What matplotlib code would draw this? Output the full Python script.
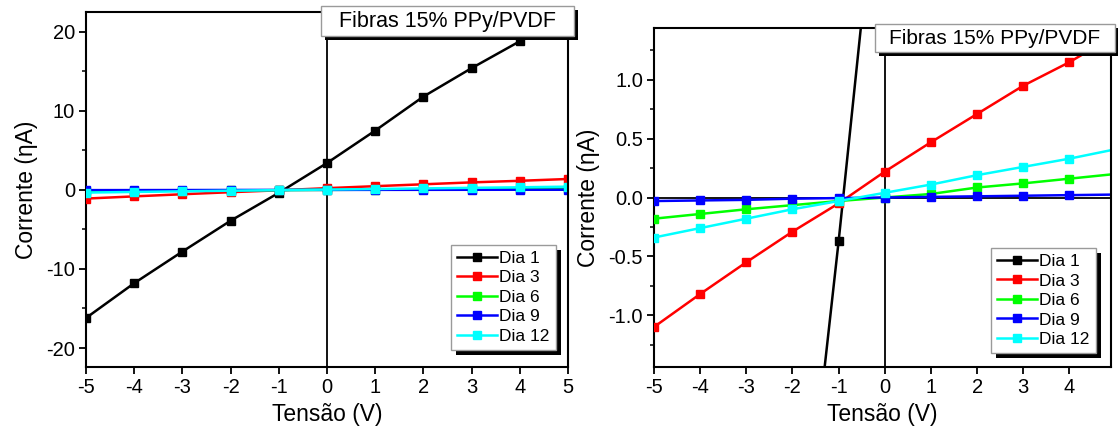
import matplotlib
matplotlib.use("Agg")
import matplotlib.pyplot as plt
import matplotlib.patheffects as pe
from matplotlib.patches import Rectangle
from matplotlib.ticker import MultipleLocator, FormatStrFormatter

plt.rcParams['font.family'] = ['Liberation Sans', 'DejaVu Sans']
plt.rcParams['axes.unicode_minus'] = False

voltage = [-5, -4, -3, -2, -1, 0, 1, 2, 3, 4, 5]
dia1 = [-16.2, -11.8, -7.8, -3.9, -0.37, 3.4, 7.5, 11.8, 15.4, 18.8, 22.6]
dia3 = [-1.10, -0.82, -0.55, -0.29, -0.05, 0.22, 0.47, 0.71, 0.95, 1.15, 1.38]
dia6 = [-0.18, -0.14, -0.10, -0.065, -0.03, 0.0, 0.03, 0.085, 0.12, 0.16, 0.20]
dia9 = [-0.03, -0.025, -0.02, -0.01, -0.005, 0.0, 0.005, 0.01, 0.015, 0.02, 0.025]
dia12 = [-0.34, -0.26, -0.18, -0.10, -0.03, 0.04, 0.11, 0.19, 0.26, 0.33, 0.41]

series = [("Dia 1", dia1, "#000000"), ("Dia 3", dia3, "#ff0000"),
          ("Dia 6", dia6, "#00ff00"), ("Dia 9", dia9, "#0000ff"),
          ("Dia 12", dia12, "#00ffff")]

title_text = "Fibras 15% PPy/PVDF"
xlabel = "Tensão (V)"
ylabel = "Corrente (ηA)"

W, H = 1118, 429
fig = plt.figure(figsize=(W / 100, H / 100), dpi=100)


def px_axes(x0, y0, x1, y1):
    return fig.add_axes([x0 / W, 1 - y1 / H, (x1 - x0) / W, (y1 - y0) / H])


def style_axes(ax, ymajor, yminor):
    for s in ['top', 'right']:
        ax.spines[s].set_visible(False)
    for s in ['left', 'bottom']:
        ax.spines[s].set_linewidth(1.5)
    ax.plot([1, 1], [0, 1], transform=ax.transAxes, color='k', lw=1.5, clip_on=False, zorder=5)
    ax.plot([0, 1], [1, 1], transform=ax.transAxes, color='k', lw=1.5, clip_on=False, zorder=5)
    ax.axvline(0, color='k', lw=1.3, zorder=1)
    ax.axhline(0, color='k', lw=1.3, zorder=1)
    ax.xaxis.set_major_locator(MultipleLocator(1))
    ax.yaxis.set_major_locator(MultipleLocator(ymajor))
    ax.yaxis.set_minor_locator(MultipleLocator(yminor))
    ax.tick_params(which='major', direction='out', length=5, width=1.3, labelsize=14.5, pad=3)
    ax.tick_params(which='minor', direction='out', length=3, width=1.1)
    ax.tick_params(axis='x', which='minor', length=0)
    ax.set_xlabel(xlabel, fontsize=16.5, labelpad=4)
    ax.set_ylabel(ylabel, fontsize=16.5, labelpad=6)


def add_legend(ax, anchor):
    leg = ax.legend(loc='lower right', bbox_to_anchor=anchor, borderaxespad=0,
                    fontsize=12.5, handlelength=2.3, handletextpad=0.15,
                    labelspacing=0.25, borderpad=0.35, fancybox=False,
                    framealpha=1, edgecolor='#9a9a9a')
    leg.get_frame().set_linewidth(1.0)
    leg.get_frame().set_path_effects([
        pe.SimplePatchShadow(offset=(3.6, -3.6), shadow_rgbFace='k', alpha=1),
        pe.Normal()])
    leg.set_zorder(10)


def title_box(x0, y0, x1, y1, fs):
    r = Rectangle((x0 / W, 1 - y1 / H), (x1 - x0) / W, (y1 - y0) / H,
                  transform=fig.transFigure, facecolor='white', edgecolor='#9a9a9a',
                  lw=1.0, zorder=20)
    r.set_path_effects([pe.SimplePatchShadow(offset=(3, -3), shadow_rgbFace='k', alpha=1),
                        pe.Normal()])
    fig.add_artist(r)
    fig.text((x0 + x1) / 2 / W, 1 - (y0 + y1) / 2 / H, title_text, ha='center',
             va='center', fontsize=fs, zorder=21)


# Left panel
ax1 = px_axes(86, 12, 568, 367)
for name, vals, col in series:
    ax1.plot(voltage, vals, color=col, lw=1.8, marker='s', markersize=6, label=name, zorder=3)
ax1.set_xlim(-5, 5)
ax1.set_ylim(-22.4, 22.5)
style_axes(ax1, 10, 5)
add_legend(ax1, (0.975, 0.048))

# Right panel
ax2 = px_axes(654, 28, 1111, 367)
for name, vals, col in series:
    ax2.plot(voltage, vals, color=col, lw=1.8, marker='s', markersize=6, label=name, zorder=3)
ax2.set_xlim(-5, 4.9)
ax2.set_ylim(-1.44, 1.44)
style_axes(ax2, 0.5, 0.25)
ax2.yaxis.set_major_formatter(FormatStrFormatter('%.1f'))
add_legend(ax2, (0.967, 0.041))

title_box(321, 6, 574, 36, 15.5)
title_box(875, 24, 1115, 52, 15)

fig.savefig("out.png", dpi=100)
